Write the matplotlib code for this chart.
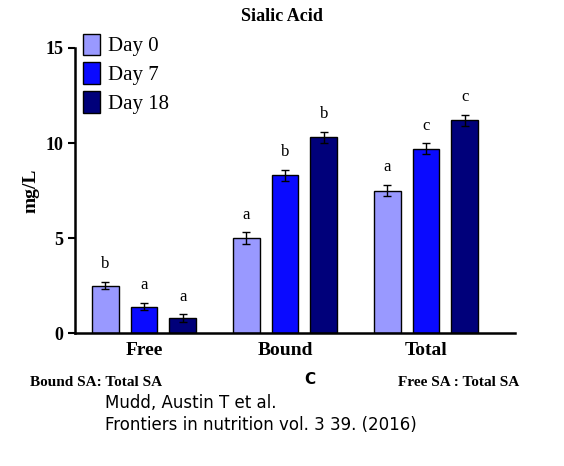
import numpy as np
import matplotlib
matplotlib.use('Agg')
import matplotlib.pyplot as plt

groups = ["Free", "Bound", "Total"]
days = ["Day 0", "Day 7", "Day 18"]
values = [[2.5, 5.0, 7.5], [1.4, 8.3, 9.7], [0.8, 10.3, 11.2]]
errors = [[0.2, 0.3, 0.3], [0.2, 0.3, 0.3], [0.2, 0.3, 0.3]]
letters = [["b", "a", "a"], ["a", "b", "c"], ["a", "b", "c"]]
colors = ["#9999ff", "#0a0aff", "#00007a"]

serif = "DejaVu Serif"
plt.rcParams['font.family'] = ['Liberation Serif', 'DejaVu Serif']

fig = plt.figure(figsize=(5.64, 4.66), dpi=100)
ax = fig.add_axes([0.133, 0.285, 0.78, 0.612])

x = np.arange(len(groups))
off = 0.275
w = 0.19
for i, d in enumerate(days):
    xs = x + (i - 1) * off
    ax.bar(xs, values[i], w, yerr=errors[i], color=colors[i], edgecolor="black",
           linewidth=1, label=d, error_kw=dict(ecolor="black", capsize=3, elinewidth=1))
    for xx, v, e, l in zip(xs, values[i], errors[i], letters[i]):
        ax.text(xx, v + e + 0.5, l, ha="center", va="bottom", fontsize=12)

ax.set_xlim(-0.49, 2.63)
ax.set_ylim(0, 15)
ax.set_yticks([0, 5, 10, 15])
ax.set_xticks(x)
ax.set_xticklabels(groups, fontsize=14, fontweight="bold")
ax.tick_params(axis="y", labelsize=13, width=1.5, length=5)
for t in ax.get_yticklabels():
    t.set_fontweight("bold")
ax.tick_params(axis="x", length=0, pad=6)
ax.spines["top"].set_visible(False)
ax.spines["right"].set_visible(False)
ax.spines["left"].set_linewidth(1.8)
ax.spines["bottom"].set_linewidth(1.8)
ax.set_ylabel("mg/L", fontsize=14, fontweight="bold")
ax.legend(loc="upper left", bbox_to_anchor=(0.0, 1.08), frameon=False, fontsize=15,
          handlelength=0.8, handleheight=1.2, handletextpad=0.4, labelspacing=0.3,
          borderaxespad=0)

fig.text(0.5, 0.965, "Sialic Acid", ha="center", va="center", fontsize=13, fontweight="bold")
fig.text(0.053, 0.18, "Bound SA: Total SA", fontsize=11, fontweight="bold", va="center")
fig.text(0.54, 0.185, "C", fontsize=11, fontweight="bold", va="center", family="DejaVu Sans")
fig.text(0.705, 0.18, "Free SA : Total SA", fontsize=11, fontweight="bold", va="center")
fig.text(0.186, 0.135, "Mudd, Austin T et al.", fontsize=12, va="center", family="DejaVu Sans")
fig.text(0.186, 0.088, "Frontiers in nutrition vol. 3 39. (2016)", fontsize=12, va="center",
         family="DejaVu Sans")

fig.savefig("out.png", dpi=100)
